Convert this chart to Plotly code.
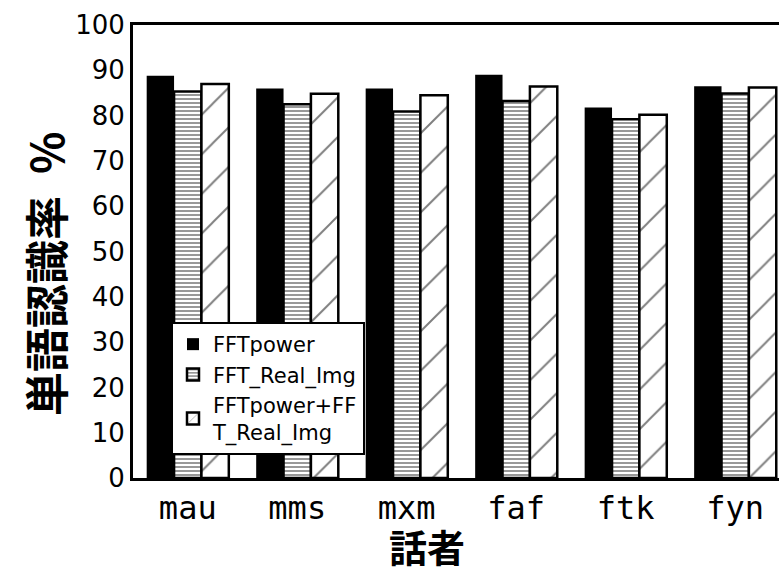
import plotly.graph_objects as go

speakers = ["mau", "mms", "mxm", "faf", "ftk", "fyn"]
fft_power = [88.8, 86.0, 86.0, 89.0, 81.8, 86.5]
fft_real_img = [85.3, 82.5, 80.9, 83.2, 79.2, 84.9]
fft_both = [87.0, 84.8, 84.5, 86.4, 80.2, 86.2]
series_names = ["FFTpower", "FFT_Real_Img", "FFTpower+FF<br>T_Real_Img"]
y_ticks = list(range(0, 101, 10))

W, H = 779, 571
L, R, T, B = 133, 0, 25, 93
pw, ph = W - L - R, H - T - B

def px_x(x):
    return (x - L) / pw

def px_y(y):
    return (H - B - y) / ph

fig = go.Figure()
fig.add_trace(go.Bar(
    x=speakers, y=fft_power, name=series_names[0],
    marker=dict(color="black", line=dict(color="black", width=0)),
))
fig.add_trace(go.Bar(
    x=speakers, y=fft_real_img, name=series_names[1],
    marker=dict(color="white", line=dict(color="black", width=2.5),
                pattern=dict(shape="-", size=4, solidity=0.4,
                             fgcolor="black", bgcolor="white")),
))
fig.add_trace(go.Bar(
    x=speakers, y=fft_both, name=series_names[2],
    marker=dict(color="white", line=dict(color="black", width=2.5),
                pattern=dict(shape="/", size=28, solidity=0.07,
                             fgcolor="black", bgcolor="white")),
))

fig.update_layout(
    width=W, height=H,
    margin=dict(l=L, r=R, t=T, b=B, pad=0),
    paper_bgcolor="white", plot_bgcolor="white",
    barmode="group", bargap=0.25, bargroupgap=0,
    showlegend=True,
    legend=dict(
        x=px_x(171), y=px_y(322), xanchor="left", yanchor="top",
        bgcolor="white", bordercolor="black", borderwidth=2,
        font=dict(family="DejaVu Sans", size=21, color="black"),
        tracegroupgap=0,
    ),
    font=dict(family="DejaVu Sans", color="black"),
)
fig.update_xaxes(
    range=[-0.5, 5.4], showline=True, linecolor="black", linewidth=3,
    mirror=True, ticks="", showgrid=False,
    tickfont=dict(family="DejaVu Sans Mono", size=32, color="black"),
)
fig.update_yaxes(
    range=[0, 100], tickvals=y_ticks, showline=True, linecolor="black",
    linewidth=3, ticks="", showgrid=False, zeroline=False,
    tickfont=dict(family="DejaVu Sans", size=26, color="black"),
)
fig.add_annotation(
    text="話者", xref="paper", yref="paper", x=px_x(427), y=px_y(545),
    showarrow=False, xanchor="center", yanchor="middle",
    font=dict(family="Noto Sans CJK JP", size=38, color="black", weight=700),
)
fig.add_annotation(
    text="単語認識率\u2002%", xref="paper", yref="paper", x=px_x(45), y=px_y(274),
    showarrow=False, xanchor="center", yanchor="middle", textangle=-90,
    font=dict(family="Noto Sans CJK JP", size=44, color="black", weight=700),
)
fig.write_html("out.html")
